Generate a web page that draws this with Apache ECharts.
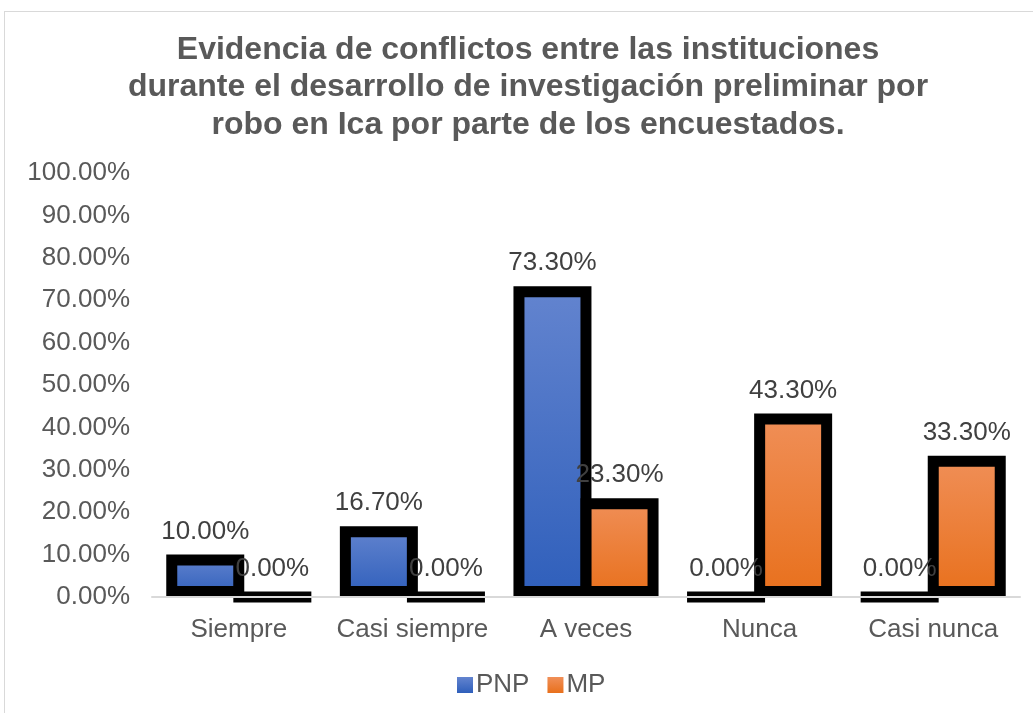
<!DOCTYPE html>
<html>
<head>
<meta charset="utf-8">
<script src="https://cdn.jsdelivr.net/npm/echarts@6/dist/echarts.min.js"></script>
<style>
  html, body { margin: 0; padding: 0; background: #fff; overflow: hidden; }
  #frame { position: absolute; left: 4px; top: 11px; width: 1060px; height: 760px; border: 1px solid #d9d9d9; }
  #chart { position: absolute; left: 0; top: 0; width: 1033px; height: 713px; }
</style>
</head>
<body>
<div id="frame"></div>
<div id="chart"></div>
<script>
const categories = ['Siempre', 'Casi siempre', 'A veces', 'Nunca', 'Casi nunca']
const pnpValues = [10.0, 16.7, 73.3, 0.0, 0.0]
const mpValues = [0.0, 0.0, 23.3, 43.3, 33.3]
const titleLines = [
  'Evidencia de conflictos entre las instituciones',
  'durante el desarrollo de investigación preliminar por',
  'robo en Ica por parte de los encuestados.',
]

const font = '"Liberation Sans", Arial, sans-serif'

const blueFill = new echarts.graphic.LinearGradient(0, 0, 0, 1, [
  { offset: 0, color: '#6384cf' },
  { offset: 1, color: '#2f5fbb' },
])
const orangeFill = new echarts.graphic.LinearGradient(0, 0, 0, 1, [
  { offset: 0, color: '#f08f58' },
  { offset: 1, color: '#e8701c' },
])

const chart = echarts.init(document.getElementById('chart'))

const barLabel = {
  show: true,
  position: 'top',
  distance: 10,
  color: '#404040',
  fontSize: 26,
  fontFamily: font,
  formatter: (p) => p.value.toFixed(2) + '%',
}

chart.setOption({
  animation: false,
  // title drawn as plain text so it can be centred a bit right of the canvas middle
  graphic: [
    {
      type: 'text',
      x: 528,
      y: 31,
      style: {
        text: titleLines.join('\n'),
        fill: '#595959',
        fontSize: 32,
        fontWeight: 'bold',
        fontFamily: font,
        lineHeight: 37.5,
        align: 'center',
        verticalAlign: 'top',
      },
    },
  ],
  grid: { left: 152, right: 13, top: 173, bottom: 116 },
  legend: {
    bottom: 10,
    left: 452,
    itemWidth: 16,
    itemHeight: 16,
    itemGap: 18,
    icon: 'rect',
    itemStyle: { borderWidth: 0 },
    textStyle: { color: '#595959', fontSize: 26, fontFamily: font, padding: [0, 0, 0, -2] },
    data: ['PNP', 'MP'],
  },
  xAxis: {
    type: 'category',
    data: categories,
    z: 5,
    axisLine: { lineStyle: { color: '#d9d9d9', width: 2 } },
    axisTick: { show: false },
    axisLabel: { color: '#595959', fontSize: 26, fontFamily: font, margin: 20, interval: 0 },
  },
  yAxis: {
    type: 'value',
    min: 0,
    max: 100,
    interval: 10,
    axisLine: { show: false },
    axisTick: { show: false },
    splitLine: { show: false },
    axisLabel: {
      color: '#595959',
      fontSize: 26,
      fontFamily: font,
      margin: 22,
      formatter: (v) => v.toFixed(2) + '%',
    },
  },
  series: [
    {
      name: 'PNP',
      type: 'bar',
      data: pnpValues,
      barWidth: 78,
      barGap: '-14%',
      itemStyle: { color: blueFill, borderColor: '#000', borderWidth: 11 },
      label: barLabel,
    },
    {
      name: 'MP',
      type: 'bar',
      data: mpValues,
      barWidth: 78,
      itemStyle: { color: orangeFill, borderColor: '#000', borderWidth: 11 },
      label: barLabel,
    },
  ],
})
</script>
</body>
</html>
